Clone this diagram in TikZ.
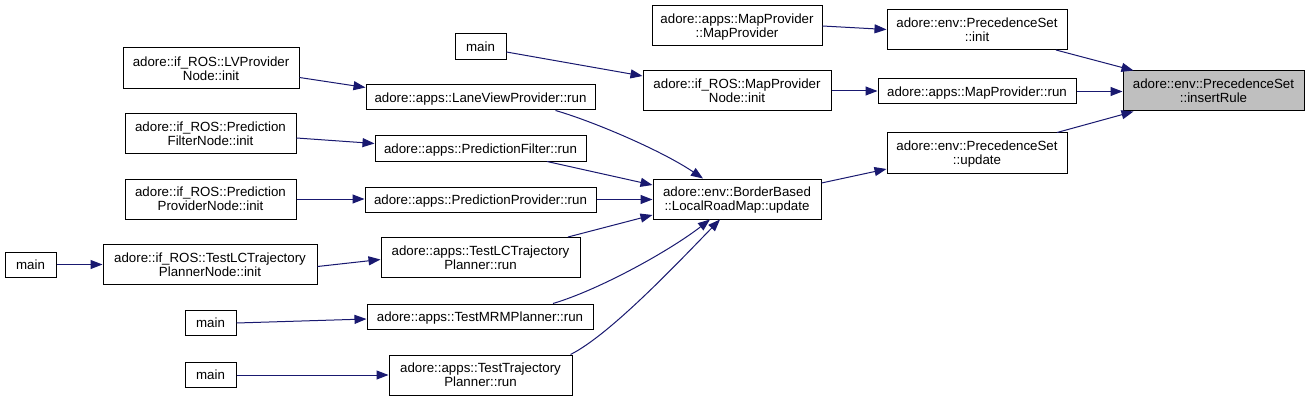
\documentclass[tikz,border=0pt]{standalone}
\usepackage{fontspec}
\setmainfont{Liberation Sans}
\usetikzlibrary{arrows.meta}
\definecolor{edgeblue}{HTML}{191970}
\definecolor{hlgray}{HTML}{BFBFBF}
\tikzset{
  box/.style={draw=black, line width=1pt, fill=white, inner sep=0pt, align=center,
    font=\fontsize{13.3}{14}\selectfont, text depth=0pt},
  hl/.style={box, fill=hlgray},
  call/.style={draw=edgeblue, line width=1pt, -{Triangle[length=12pt,width=9pt]}, color=edgeblue},
}
\begin{document}
\begin{tikzpicture}[x=1pt,y=-1pt]
\useasboundingbox[fill=white] (0,0) rectangle (1309,401);
% column 6
\node[hl, minimum width=181pt, minimum height=40pt] (IR) at (1213.5,91) {adore::env::PrecedenceSet\\::insertRule};
% column 5
\node[box, minimum width=180pt, minimum height=40pt] (PSI) at (977,29.5) {adore::env::PrecedenceSet\\::init};
\node[box, minimum width=198pt, minimum height=25pt] (MPR) at (977,91.5) {adore::apps::MapProvider::run};
\node[box, minimum width=180pt, minimum height=40pt] (PSU) at (977,153) {adore::env::PrecedenceSet\\::update};
% column 4
\node[box, minimum width=170pt, minimum height=40pt] (MPMP) at (737,26) {adore::apps::MapProvider\\::MapProvider};
\node[box, minimum width=188pt, minimum height=40pt] (MPN) at (737,91) {adore::if\_ROS::MapProvider\\Node::init};
\node[box, minimum width=168pt, minimum height=40pt] (BB) at (737,199) {adore::env::BorderBased\\::LocalRoadMap::update};
% column 3
\node[box, minimum width=51pt, minimum height=26pt] (M1) at (480.5,47) {main};
\node[box, minimum width=229pt, minimum height=25pt] (LVR) at (480.5,97.5) {adore::apps::LaneViewProvider::run};
\node[box, minimum width=211pt, minimum height=25pt] (PFR) at (480.5,148.5) {adore::apps::PredictionFilter::run};
\node[box, minimum width=231pt, minimum height=25pt] (PPR) at (480.5,199.5) {adore::apps::PredictionProvider::run};
\node[box, minimum width=199pt, minimum height=40pt] (TLCR) at (480.5,257.5) {adore::apps::TestLCTrajectory\\Planner::run};
\node[box, minimum width=226pt, minimum height=25pt] (MRMR) at (480,316.5) {adore::apps::TestMRMPlanner::run};
\node[box, minimum width=183pt, minimum height=40pt] (TTR) at (480.5,375) {adore::apps::TestTrajectory\\Planner::run};
% column 2
\node[box, minimum width=176pt, minimum height=41pt] (LVN) at (211,68.5) {adore::if\_ROS::LVProvider\\Node::init};
\node[box, minimum width=171pt, minimum height=40pt] (PFN) at (210.5,134) {adore::if\_ROS::Prediction\\FilterNode::init};
\node[box, minimum width=171pt, minimum height=40pt] (PPN) at (210.5,199) {adore::if\_ROS::Prediction\\ProviderNode::init};
\node[box, minimum width=214pt, minimum height=40pt] (TLCN) at (210,264.5) {adore::if\_ROS::TestLCTrajectory\\PlannerNode::init};
\node[box, minimum width=51pt, minimum height=25pt] (M3) at (210.5,323) {main};
\node[box, minimum width=51pt, minimum height=25pt] (M4) at (210.5,375) {main};
% column 1
\node[box, minimum width=51pt, minimum height=25pt] (M2) at (30.5,264.5) {main};
% edges
\draw[call] ([xshift=79pt]PSI.south) -- ([xshift=-80pt]IR.north);
\draw[call] (MPR.east) -- (MPR.east -| IR.west);
\draw[call] ([xshift=80pt]PSU.north) -- ([xshift=-80pt]IR.south);
\draw[call] (MPMP.east) -- (PSI.west);
\draw[call] ([yshift=-5pt]M1.east) -- ([yshift=15pt]MPN.west);
\draw[call] (MPN.east) -- (MPN.east -| MPR.west);
\draw[call] ([yshift=16pt]BB.east) -- ([yshift=-16pt]PSU.west);
\draw[call] ([yshift=-9pt]LVN.east) -- ([yshift=10pt]LVR.west);
\draw[call] ([xshift=75pt]LVR.south) .. controls +(35,10) and +(-43,-29) .. ([xshift=-34pt]BB.north);
\draw[call] ([yshift=-4pt]PFN.east) -- ([yshift=5pt]PFR.west);
\draw[call] ([xshift=66.5pt]PFR.south) -- ([yshift=14pt]BB.west);
\draw[call] (PPN.east) -- (PPN.east -| PPR.west);
\draw[call] (PPR.east) -- (PPR.east -| BB.west);
\draw[call] ([xshift=87.5pt]TLCR.north) -- ([yshift=-16pt]BB.west);
\draw[call] (M2.east) -- (TLCN.west);
\draw[call] ([yshift=-2pt]TLCN.east) -- ([yshift=-2pt]TLCR.west);
\draw[call] (M3.east) -- ([yshift=-2.5pt]MRMR.west);
\draw[call] ([xshift=73pt]MRMR.north) .. controls +(47,-14) and +(-40,31) .. ([xshift=-27pt]BB.south);
\draw[call] (M4.east) -- (TTR.west);
\draw[call] ([xshift=90pt]TTR.north) .. controls +(40,-20) and +(-40,41) .. ([xshift=-17pt]BB.south);
\end{tikzpicture}
\end{document}
